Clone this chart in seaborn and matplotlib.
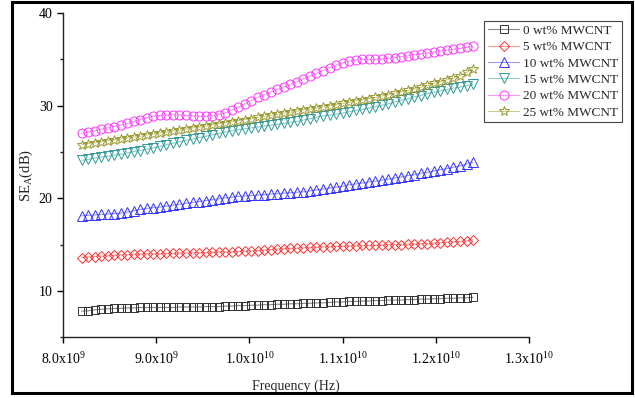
import numpy as np
import pandas as pd
import matplotlib
matplotlib.use('Agg')
import matplotlib.pyplot as plt
import seaborn as sns
from matplotlib.patches import Rectangle
from matplotlib.ticker import MultipleLocator, FixedLocator, FixedFormatter

# Frequência (Hz): varredura de 8.2 GHz a 12.4 GHz, 61 pontos
freq = np.linspace(8.2e9, 12.4e9, 61)

se_0 = [7.8, 7.85, 7.95, 8.0, 8.05, 8.1, 8.1, 8.15, 8.15, 8.2,
        8.2, 8.2, 8.2, 8.2, 8.2, 8.25, 8.25, 8.25, 8.25, 8.3,
        8.3, 8.3, 8.35, 8.35, 8.4, 8.4, 8.45, 8.45, 8.5, 8.5,
        8.55, 8.55, 8.6, 8.6, 8.65, 8.65, 8.7, 8.7, 8.75, 8.8,
        8.8, 8.85, 8.85, 8.9, 8.9, 8.95, 8.95, 9.0, 9.0, 9.0,
        9.05, 9.05, 9.1, 9.1, 9.15, 9.15, 9.2, 9.2, 9.25, 9.25,
        9.3]
se_5 = [13.6, 13.65, 13.7, 13.75, 13.8, 13.85, 13.9, 13.9, 13.95, 13.95,
        14.0, 14.0, 14.0, 14.05, 14.05, 14.05, 14.1, 14.1, 14.1, 14.15,
        14.15, 14.2, 14.2, 14.2, 14.25, 14.3, 14.3, 14.35, 14.4, 14.45,
        14.5, 14.55, 14.6, 14.6, 14.65, 14.7, 14.7, 14.75, 14.75, 14.8,
        14.8, 14.85, 14.85, 14.9, 14.9, 14.9, 14.95, 14.95, 15.0, 15.0,
        15.05, 15.05, 15.1, 15.1, 15.15, 15.2, 15.25, 15.3, 15.35, 15.4,
        15.5]
se_10 = [18.1, 18.15, 18.2, 18.25, 18.3, 18.35, 18.4, 18.5, 18.65, 18.8,
         18.9, 19.0, 19.05, 19.15, 19.25, 19.35, 19.45, 19.55, 19.65, 19.75,
         19.85, 19.95, 20.05, 20.1, 20.2, 20.25, 20.3, 20.35, 20.4, 20.45,
         20.5, 20.55, 20.6, 20.65, 20.7, 20.8, 20.9, 21.0, 21.1, 21.2,
         21.3, 21.45, 21.55, 21.65, 21.75, 21.85, 21.95, 22.05, 22.2, 22.3,
         22.45, 22.55, 22.7, 22.8, 22.95, 23.1, 23.2, 23.35, 23.5, 23.7,
         23.9]
se_15 = [24.1, 24.2, 24.35, 24.45, 24.55, 24.65, 24.75, 24.9, 25.05, 25.15,
         25.3, 25.45, 25.6, 25.8, 25.95, 26.1, 26.25, 26.4, 26.55, 26.7,
         26.85, 27.0, 27.15, 27.3, 27.4, 27.5, 27.6, 27.7, 27.8, 27.9,
         28.0, 28.1, 28.2, 28.3, 28.45, 28.6, 28.75, 28.9, 29.0, 29.1,
         29.2, 29.35, 29.5, 29.6, 29.75, 29.9, 30.05, 30.2, 30.4, 30.6,
         30.75, 30.95, 31.1, 31.3, 31.45, 31.6, 31.75, 31.9, 32.0, 32.15,
         32.3]
se_20 = [27.0, 27.15, 27.3, 27.45, 27.6, 27.75, 27.9, 28.1, 28.3, 28.5,
         28.7, 28.85, 28.95, 29.0, 29.0, 29.0, 28.95, 28.9, 28.85, 28.85,
         28.9, 29.0, 29.2, 29.5, 29.85, 30.2, 30.55, 30.9, 31.2, 31.5,
         31.75, 32.0, 32.3, 32.6, 32.9, 33.2, 33.5, 33.8, 34.1, 34.4,
         34.6, 34.8, 34.95, 35.0, 35.0, 35.0, 35.05, 35.1, 35.2, 35.3,
         35.4, 35.5, 35.6, 35.7, 35.8, 35.9, 36.0, 36.1, 36.2, 36.3,
         36.4]
se_25 = [25.8, 25.9, 26.0, 26.1, 26.2, 26.3, 26.4, 26.5, 26.6, 26.7,
         26.85, 26.95, 27.05, 27.15, 27.25, 27.35, 27.5, 27.6, 27.7, 27.8,
         27.95, 28.05, 28.15, 28.25, 28.4, 28.5, 28.6, 28.75, 28.85, 28.95,
         29.05, 29.2, 29.3, 29.4, 29.55, 29.65, 29.75, 29.85, 30.0, 30.1,
         30.25, 30.35, 30.5, 30.6, 30.75, 30.9, 31.05, 31.2, 31.35, 31.5,
         31.65, 31.8, 32.0, 32.2, 32.4, 32.6, 32.8, 33.0, 33.25, 33.6,
         34.0]

rotulos = ['0 wt% MWCNT', '5 wt% MWCNT', '10 wt% MWCNT',
           '15 wt% MWCNT', '20 wt% MWCNT', '25 wt% MWCNT']
series = [se_0, se_5, se_10, se_15, se_20, se_25]
marcadores = ['s', 'D', '^', 'v', 'o', '*']
cores = ['#333333', '#ff3333', '#3333ff', '#339999', '#ff33ff', '#999933']
cores_linha = ['#888888', '#ff9999', '#9999ff', '#88cccc', '#ff99ff', '#cccc88']
tamanhos = [6.0, 5.5, 6.5, 6.5, 6.5, 7.5]

x_ticks = [8.0e9, 9.0e9, 1.0e10, 1.1e10, 1.2e10, 1.3e10]
x_rotulos = [r'8.0x10$^{9}$', r'9.0x10$^{9}$', r'1.0x10$^{10}$',
             r'1.1x10$^{10}$', r'1.2x10$^{10}$', r'1.3x10$^{10}$']

sns.set_style('ticks')
plt.rcParams['font.family'] = ['Liberation Serif', 'DejaVu Serif']
plt.rcParams['mathtext.fontset'] = 'custom'
plt.rcParams['mathtext.rm'] = 'Liberation Serif'
plt.rcParams['mathtext.it'] = 'Liberation Serif:italic'

fig = plt.figure(figsize=(6.35, 3.98), dpi=100)
ax = fig.add_axes([0.0992, 0.153, 0.7338, 0.814])

for rot, vals, mk, c, cl, ms in zip(rotulos, series, marcadores, cores, cores_linha, tamanhos):
    df = pd.DataFrame({'freq': freq, 'se': vals})
    sns.lineplot(data=df, x='freq', y='se', ax=ax, color=cl, marker=mk,
                 markersize=ms, markerfacecolor='none', markeredgecolor=c,
                 markeredgewidth=0.7, linewidth=0.8, label=rot)

ax.set_xlim(8.0e9, 1.3e10)
ax.set_ylim(5, 40)
ax.xaxis.set_major_locator(FixedLocator(x_ticks))
ax.xaxis.set_major_formatter(FixedFormatter(x_rotulos))
ax.yaxis.set_major_locator(MultipleLocator(10))
ax.yaxis.set_minor_locator(MultipleLocator(5))
ax.tick_params(axis='both', direction='out', labelsize=10, colors='black')
ax.tick_params(axis='both', which='major', length=4, width=1)
ax.tick_params(axis='x', which='major', pad=6)
ax.tick_params(axis='y', which='minor', length=2.5, width=1)
for lado in ['top', 'right']:
    ax.spines[lado].set_visible(False)
for lado in ['left', 'bottom']:
    ax.spines[lado].set_linewidth(1)
    ax.spines[lado].set_color('#222222')

ax.set_xlabel('Frequency (Hz)', fontsize=10, labelpad=9)
ax.set_ylabel(r'SE$_{\mathrm{A}}$(dB)', fontsize=10.5, labelpad=3)

handles, labels = ax.get_legend_handles_labels()
ax.get_legend().remove()
leg = fig.legend(handles, labels, loc='upper left',
                 bbox_to_anchor=(484 / 635, 1 - 21 / 398),
                 fontsize=9.5, frameon=True, fancybox=False,
                 edgecolor='#444444', framealpha=1, borderpad=0.28,
                 labelspacing=0.31, handlelength=2.4, handletextpad=0.3,
                 borderaxespad=0)
leg.get_frame().set_linewidth(0.8)

# Moldura da figura
fig.patches.append(Rectangle((0.019, 0.012), 0.976, 0.983, transform=fig.transFigure,
                             fill=False, edgecolor='black', linewidth=2.2))

fig.savefig('out.png', dpi=100)
plt.close(fig)
